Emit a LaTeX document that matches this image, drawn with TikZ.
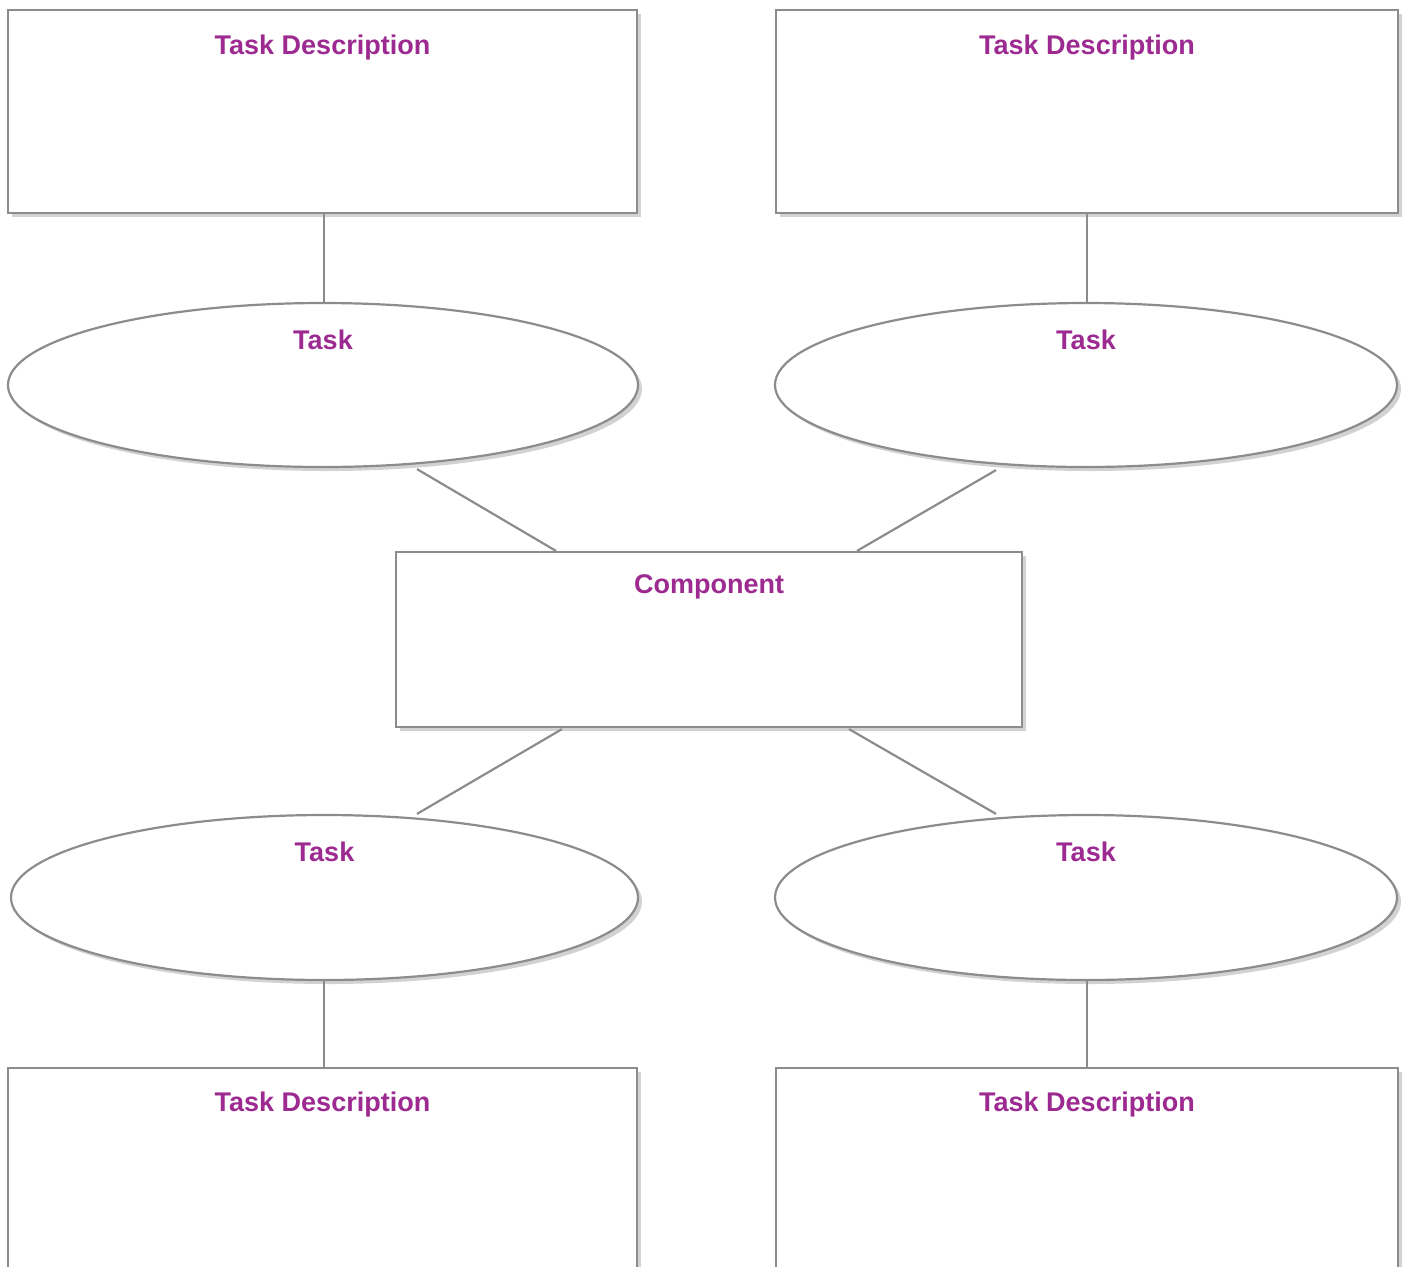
\documentclass[tikz,border=0pt]{standalone}
\usepackage{fontspec}
\setsansfont{Liberation Sans}
\usetikzlibrary{calc, positioning, shapes.geometric, shadows}
\definecolor{labelpurple}{HTML}{9C2A91}
\definecolor{edgegray}{HTML}{8C8C8C}

\begin{document}
\begin{tikzpicture}[
    x=0.5pt, y=-0.5pt,
    line width=1.1pt,
    font=\sffamily\bfseries\fontsize{13.5}{16}\selectfont,
    softshadow/.style={drop shadow={shadow xshift=2pt, shadow yshift=-2pt, opacity=0.25, fill=black!70}},
    box/.style={draw=edgegray, fill=white, rectangle, inner sep=0pt, softshadow, minimum width=#1},
    taskell/.style={draw=edgegray, fill=white, ellipse, inner sep=0pt, softshadow, minimum width=#1},
    lbl/.style={text=labelpurple, anchor=base, yshift=#1},
    link/.style={draw=edgegray, line width=1.1pt}
]

    % Page frame
    \clip (0,0) rectangle (1404,1266);

    % 1. Top row: task descriptions
    \node[box=314.5pt, minimum height=101.5pt, label={[lbl=-23pt]north:Task Description}] (desctl) at (322.5,111.5) {};
    \node[box=311pt, minimum height=101.5pt, label={[lbl=-23pt]north:Task Description}] (desctr) at (1087,111.5) {};

    % 2. Upper tasks
    \node[taskell=315pt, minimum height=82pt, label={[lbl=-24pt]north:Task}] (tasktl) at (323,385) {};
    \node[taskell=311pt, minimum height=82pt, label={[lbl=-24pt]north:Task}] (tasktr) at (1086,385) {};

    % 3. Component in the middle
    \node[box=313pt, minimum height=87.5pt, label={[lbl=-21.5pt]north:Component}] (comp) at (709,639.5) {};

    % 4. Lower tasks
    \node[taskell=313.5pt, minimum height=82.5pt, label={[lbl=-24pt]north:Task}] (taskbl) at (324.5,897.5) {};
    \node[taskell=311pt, minimum height=82.5pt, label={[lbl=-24pt]north:Task}] (taskbr) at (1086,897.5) {};

    % 5. Bottom row: task descriptions (cut by the page)
    \node[box=314.5pt, minimum height=101.5pt, label={[lbl=-22.5pt]north:Task Description}] (descbl) at (322.5,1169.5) {};
    \node[box=311pt, minimum height=101.5pt, label={[lbl=-22.5pt]north:Task Description}] (descbr) at (1087,1169.5) {};

    % Connections
    \draw[link] ($(desctl.south)+(1.5,0)$) -- ($(tasktl.north)+(1,0)$);
    \draw[link] (desctr.south) -- (desctr.south |- tasktr.north);
    \draw[link] ($(tasktl.south)+(94,1)$) -- ($(comp.north)+(-153,0)$);
    \draw[link] ($(tasktr.south)+(-90,2)$) -- ($(comp.north)+(148,0)$);
    \draw[link] ($(comp.south)+(-147,1)$) -- ($(taskbl.north)+(92.5,0)$);
    \draw[link] ($(comp.south)+(140,1)$) -- ($(taskbr.north)+(-90,0)$);
    \draw[link] ($(taskbl.south)+(-0.5,0)$) -- ($(descbl.north)+(1.5,0)$);
    \draw[link] (descbr.north |- taskbr.south) -- (descbr.north);

\end{tikzpicture}
\end{document}
